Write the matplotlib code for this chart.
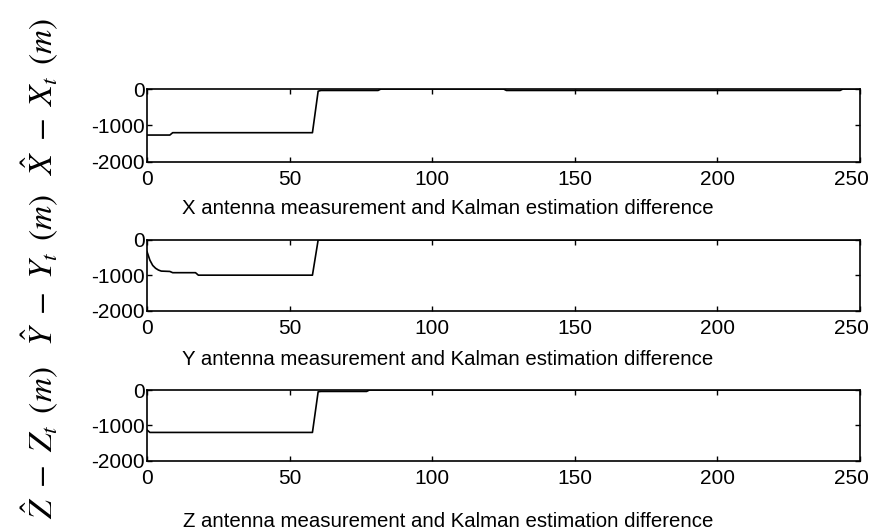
#!/usr/bin/env python3
"""Antenna measurement minus Kalman estimate, one panel per axis."""

import matplotlib

matplotlib.use("Agg")
import matplotlib.pyplot as plt
from matplotlib.transforms import ScaledTranslation

# X axis difference (m) against sample index
x_idx = [0, 8, 9, 58, 60, 61, 81, 82, 125, 126, 243, 244, 250]
x_diff = [-1270, -1270, -1205, -1205, -60, -40, -40, 0, 0, -40, -40, 0, 0]

# Y axis difference (m)
y_idx = [0, 1, 2, 3, 4, 5, 8, 9, 17, 18, 58, 60, 250]
y_diff = [-330, -570, -720, -800, -850, -880, -890, -925, -925, -995, -995, 0, 0]

# Z axis difference (m)
z_idx = [0, 1, 58, 60, 61, 77, 78, 250]
z_diff = [-1130, -1200, -1200, -50, -40, -40, 0, 0]

x_ticks = [0, 50, 100, 150, 200, 250]
y_ticks = [-2000, -1000, 0]

PANELS = [
    (x_idx, x_diff, "X antenna measurement and Kalman estimation difference",
     r"$\hat{X}\ -\ X_{t}\,\ (m)$", [0.1686, 0.6964, 0.8177, 0.1363], -0.52, 96),
    (y_idx, y_diff, "Y antenna measurement and Kalman estimation difference",
     r"$\hat{Y}\ -\ Y_{t}\,\ (m)$", [0.1686, 0.4160, 0.8177, 0.1329], -0.55, 270),
    (z_idx, z_diff, "Z antenna measurement and Kalman estimation difference",
     r"$\hat{Z}\ -\ Z_{t}\,\ (m)$", [0.1686, 0.1340, 0.8177, 0.1329], -0.72, 443),
]


def main() -> int:
    plt.rcParams["font.family"] = ["Liberation Sans", "DejaVu Sans"]
    plt.rcParams["mathtext.fontset"] = "stix"
    plt.rcParams["axes.unicode_minus"] = False

    fig = plt.figure(figsize=(8.72, 5.32), dpi=100)
    nudge_left = ScaledTranslation(-0.09, 0, fig.dpi_scale_trans)
    for idx, diff, xlabel, ylabel, rect, label_y, ylabel_px in PANELS:
        ax = fig.add_axes(rect)
        ax.plot(idx, diff, color="black", linewidth=1.2)
        ax.set_xlim(0, 250)
        ax.set_ylim(-2000, 0)
        ax.set_xticks(x_ticks)
        ax.set_yticks(y_ticks)
        ax.tick_params(direction="in", top=True, right=True, length=3.6,
                       width=1.0, labelsize=15)
        ax.tick_params(axis="x", pad=6)
        ax.tick_params(axis="y", pad=1.5)
        for spine in ax.spines.values():
            spine.set_linewidth(1.2)
        # keep the last tick label inside the figure
        last = ax.get_xticklabels()[-1]
        last.set_transform(last.get_transform() + nudge_left)
        ax.set_xlabel(xlabel, fontsize=14.7)
        ax.xaxis.set_label_coords(0.422, label_y)
        fig.text(0.046, 1 - ylabel_px / 532, ylabel, rotation=90,
                 ha="center", va="center", fontsize=24)

    fig.savefig("out.png", dpi=100)
    plt.close(fig)
    return 0


if __name__ == "__main__":
    raise SystemExit(main())
